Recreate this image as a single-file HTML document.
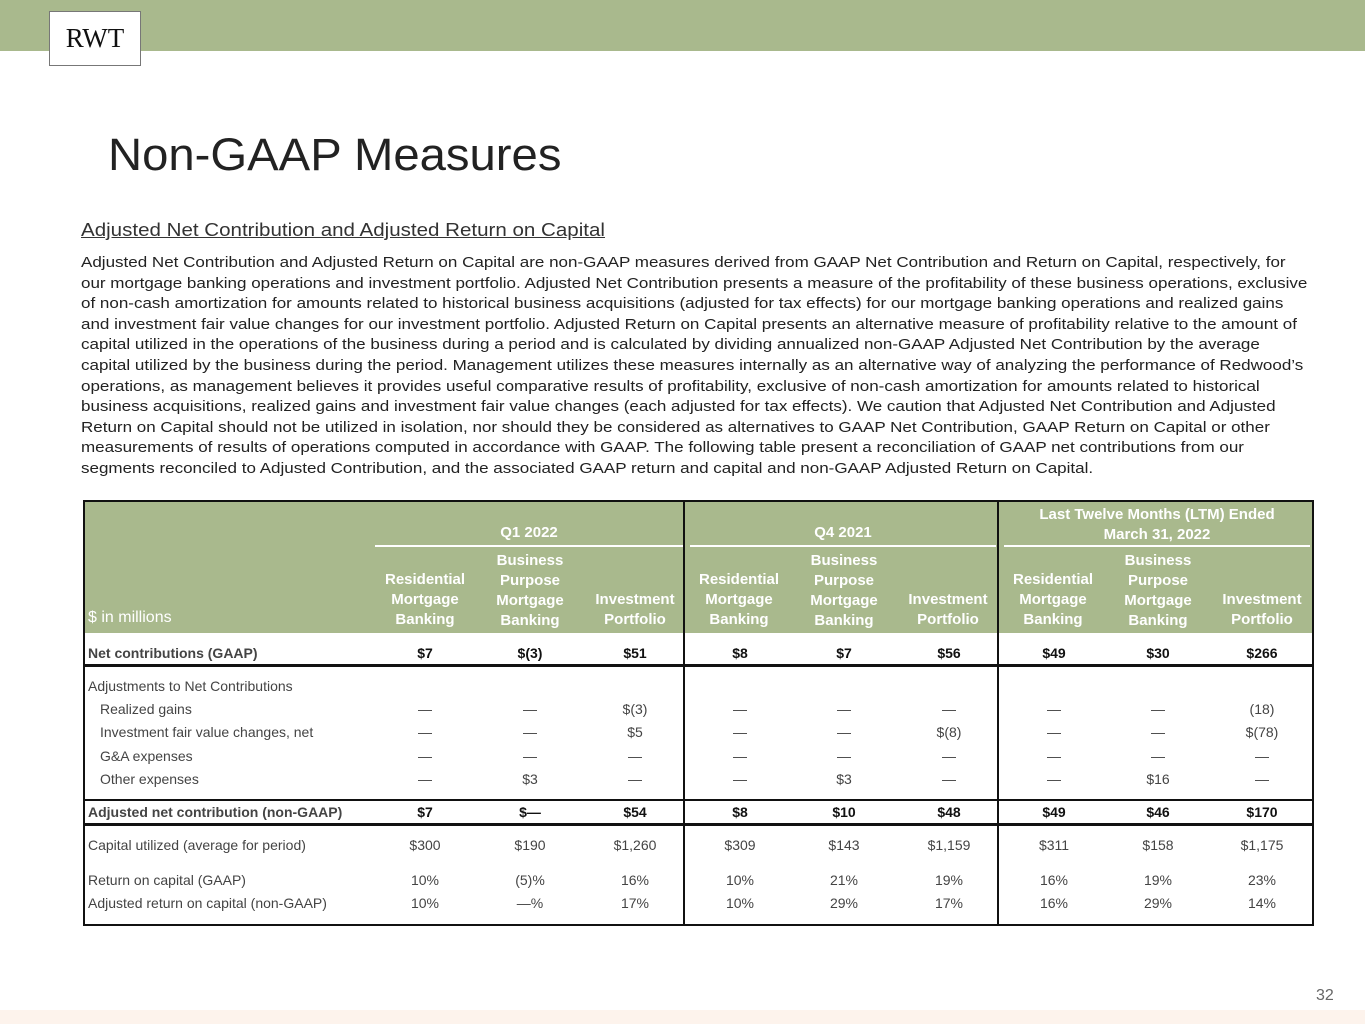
<!DOCTYPE html>
<html><head><meta charset="utf-8"><style>
*{margin:0;padding:0;box-sizing:border-box}
body{width:1365px;height:1024px;position:relative;background:#fff;font-family:"Liberation Sans",Arial,sans-serif;overflow:hidden;color:#222}
.a{position:absolute}
.c{position:absolute;width:110px;text-align:center;font-size:14px;line-height:18px;color:#444;white-space:nowrap}
.b{font-weight:bold;color:#111}
.h{position:absolute;width:110px;text-align:center;font-size:15px;line-height:20px;font-weight:bold;color:#fff}
.l{position:absolute;left:88px;font-size:14px;line-height:18px;color:#444;white-space:nowrap}
.hl{position:absolute;left:83px;width:1230px;height:2px;background:#111}
.vl{position:absolute;top:501px;width:2px;height:424px;background:#111}
</style></head><body>
<div class="a" style="left:0;top:0;width:1365px;height:51px;background:#a9b98d"></div>
<div class="a" style="left:49px;top:11px;width:92px;height:55px;background:#fff;border:1px solid #777;font-family:'Liberation Serif',serif;font-size:27px;line-height:53px;text-align:center;color:#111">RWT</div>
<div class="a" style="left:108px;top:128px;font-size:45px;line-height:54px;color:#222;transform:scaleX(1.05);transform-origin:left">Non-GAAP Measures</div>
<div class="a" style="left:81px;top:218px;font-size:18.5px;line-height:23px;color:#333;text-decoration:underline;transform:scaleX(1.11);transform-origin:left;white-space:nowrap">Adjusted Net Contribution and Adjusted Return on Capital</div>
<div class="a" style="left:81px;top:253px;font-size:15.2px;line-height:20.6px;color:#222;white-space:nowrap;transform:scaleX(1.12);transform-origin:left">Adjusted Net Contribution and Adjusted Return on Capital are non-GAAP measures derived from GAAP Net Contribution and Return on Capital, respectively, for<br>our mortgage banking operations and investment portfolio. Adjusted Net Contribution presents a measure of the profitability of these business operations, exclusive<br>of non-cash amortization for amounts related to historical business acquisitions (adjusted for tax effects) for our mortgage banking operations and realized gains<br>and investment fair value changes for our investment portfolio. Adjusted Return on Capital presents an alternative measure of profitability relative to the amount of<br>capital utilized in the operations of the business during a period and is calculated by dividing annualized non-GAAP Adjusted Net Contribution by the average<br>capital utilized by the business during the period. Management utilizes these measures internally as an alternative way of analyzing the performance of Redwood’s<br>operations, as management believes it provides useful comparative results of profitability, exclusive of non-cash amortization for amounts related to historical<br>business acquisitions, realized gains and investment fair value changes (each adjusted for tax effects). We caution that Adjusted Net Contribution and Adjusted<br>Return on Capital should not be utilized in isolation, nor should they be considered as alternatives to GAAP Net Contribution, GAAP Return on Capital or other<br>measurements of results of operations computed in accordance with GAAP. The following table present a reconciliation of GAAP net contributions from our<br>segments reconciled to Adjusted Contribution, and the associated GAAP return and capital and non-GAAP Adjusted Return on Capital.</div>

<div class="a" style="left:83px;top:500px;width:1231px;height:133px;background:#a9b98d"></div>
<div class="a" style="left:83px;top:500px;width:1231px;height:426px;border:2px solid #111"></div>
<div class="a" style="left:375px;top:545px;width:308px;height:2px;background:#fff"></div>
<div class="a" style="left:690px;top:545px;width:306px;height:2px;background:#fff"></div>
<div class="a" style="left:1004px;top:545px;width:306px;height:2px;background:#fff"></div>
<div class="hl" style="top:664px;height:3px"></div>
<div class="hl" style="top:799px"></div>
<div class="hl" style="top:823px;height:3px"></div>
<div class="vl" style="left:683px"></div>
<div class="vl" style="left:997px"></div>

<div class="a" style="left:375px;top:524px;width:308px;text-align:center;font-size:15px;font-weight:bold;color:#fff">Q1 2022</div>
<div class="a" style="left:690px;top:524px;width:306px;text-align:center;font-size:15px;font-weight:bold;color:#fff">Q4 2021</div>
<div class="a" style="left:1004px;top:505px;width:306px;text-align:center;font-size:15px;line-height:20px;font-weight:bold;color:#fff">Last Twelve Months (LTM) Ended<br>March 31, 2022</div>
<div class="a" style="left:88px;top:609px;font-size:16px;color:#fff">$ in millions</div>

<div class="h" style="left:370px;top:570px">Residential<br>Mortgage<br>Banking</div>
<div class="h" style="left:475px;top:551px">Business<br>Purpose<br>Mortgage<br>Banking</div>
<div class="h" style="left:580px;top:590px">Investment<br>Portfolio</div>
<div class="h" style="left:684px;top:570px">Residential<br>Mortgage<br>Banking</div>
<div class="h" style="left:789px;top:551px">Business<br>Purpose<br>Mortgage<br>Banking</div>
<div class="h" style="left:893px;top:590px">Investment<br>Portfolio</div>
<div class="h" style="left:998px;top:570px">Residential<br>Mortgage<br>Banking</div>
<div class="h" style="left:1103px;top:551px">Business<br>Purpose<br>Mortgage<br>Banking</div>
<div class="h" style="left:1207px;top:590px">Investment<br>Portfolio</div>

<div class="l b" style="top:644px">Net contributions (GAAP)</div>
<div class="l" style="top:677px">Adjustments to Net Contributions</div>
<div class="l" style="top:700px;left:100px">Realized gains</div>
<div class="l" style="top:723px;left:100px">Investment fair value changes, net</div>
<div class="l" style="top:747px;left:100px">G&amp;A expenses</div>
<div class="l" style="top:770px;left:100px">Other expenses</div>
<div class="l b" style="top:803px">Adjusted net contribution (non-GAAP)</div>
<div class="l" style="top:836px">Capital utilized (average for period)</div>
<div class="l" style="top:871px">Return on capital (GAAP)</div>
<div class="l" style="top:894px">Adjusted return on capital (non-GAAP)</div>

<div class="c b" style="left:370px;top:644px">$7</div><div class="c b" style="left:475px;top:644px">$(3)</div><div class="c b" style="left:580px;top:644px">$51</div>
<div class="c b" style="left:685px;top:644px">$8</div><div class="c b" style="left:789px;top:644px">$7</div><div class="c b" style="left:894px;top:644px">$56</div>
<div class="c b" style="left:999px;top:644px">$49</div><div class="c b" style="left:1103px;top:644px">$30</div><div class="c b" style="left:1207px;top:644px">$266</div>

<div class="c" style="left:370px;top:700px">—</div><div class="c" style="left:475px;top:700px">—</div><div class="c" style="left:580px;top:700px">$(3)</div>
<div class="c" style="left:685px;top:700px">—</div><div class="c" style="left:789px;top:700px">—</div><div class="c" style="left:894px;top:700px">—</div>
<div class="c" style="left:999px;top:700px">—</div><div class="c" style="left:1103px;top:700px">—</div><div class="c" style="left:1207px;top:700px">(18)</div>

<div class="c" style="left:370px;top:723px">—</div><div class="c" style="left:475px;top:723px">—</div><div class="c" style="left:580px;top:723px">$5</div>
<div class="c" style="left:685px;top:723px">—</div><div class="c" style="left:789px;top:723px">—</div><div class="c" style="left:894px;top:723px">$(8)</div>
<div class="c" style="left:999px;top:723px">—</div><div class="c" style="left:1103px;top:723px">—</div><div class="c" style="left:1207px;top:723px">$(78)</div>

<div class="c" style="left:370px;top:747px">—</div><div class="c" style="left:475px;top:747px">—</div><div class="c" style="left:580px;top:747px">—</div>
<div class="c" style="left:685px;top:747px">—</div><div class="c" style="left:789px;top:747px">—</div><div class="c" style="left:894px;top:747px">—</div>
<div class="c" style="left:999px;top:747px">—</div><div class="c" style="left:1103px;top:747px">—</div><div class="c" style="left:1207px;top:747px">—</div>

<div class="c" style="left:370px;top:770px">—</div><div class="c" style="left:475px;top:770px">$3</div><div class="c" style="left:580px;top:770px">—</div>
<div class="c" style="left:685px;top:770px">—</div><div class="c" style="left:789px;top:770px">$3</div><div class="c" style="left:894px;top:770px">—</div>
<div class="c" style="left:999px;top:770px">—</div><div class="c" style="left:1103px;top:770px">$16</div><div class="c" style="left:1207px;top:770px">—</div>

<div class="c b" style="left:370px;top:803px">$7</div><div class="c b" style="left:475px;top:803px">$—</div><div class="c b" style="left:580px;top:803px">$54</div>
<div class="c b" style="left:685px;top:803px">$8</div><div class="c b" style="left:789px;top:803px">$10</div><div class="c b" style="left:894px;top:803px">$48</div>
<div class="c b" style="left:999px;top:803px">$49</div><div class="c b" style="left:1103px;top:803px">$46</div><div class="c b" style="left:1207px;top:803px">$170</div>

<div class="c" style="left:370px;top:836px">$300</div><div class="c" style="left:475px;top:836px">$190</div><div class="c" style="left:580px;top:836px">$1,260</div>
<div class="c" style="left:685px;top:836px">$309</div><div class="c" style="left:789px;top:836px">$143</div><div class="c" style="left:894px;top:836px">$1,159</div>
<div class="c" style="left:999px;top:836px">$311</div><div class="c" style="left:1103px;top:836px">$158</div><div class="c" style="left:1207px;top:836px">$1,175</div>

<div class="c" style="left:370px;top:871px">10%</div><div class="c" style="left:475px;top:871px">(5)%</div><div class="c" style="left:580px;top:871px">16%</div>
<div class="c" style="left:685px;top:871px">10%</div><div class="c" style="left:789px;top:871px">21%</div><div class="c" style="left:894px;top:871px">19%</div>
<div class="c" style="left:999px;top:871px">16%</div><div class="c" style="left:1103px;top:871px">19%</div><div class="c" style="left:1207px;top:871px">23%</div>

<div class="c" style="left:370px;top:894px">10%</div><div class="c" style="left:475px;top:894px">—%</div><div class="c" style="left:580px;top:894px">17%</div>
<div class="c" style="left:685px;top:894px">10%</div><div class="c" style="left:789px;top:894px">29%</div><div class="c" style="left:894px;top:894px">17%</div>
<div class="c" style="left:999px;top:894px">16%</div><div class="c" style="left:1103px;top:894px">29%</div><div class="c" style="left:1207px;top:894px">14%</div>

<div class="a" style="left:1316px;top:987px;font-size:16px;color:#666">32</div>
<div class="a" style="left:0;top:1010px;width:1365px;height:14px;background:#fdf3ec"></div>
</body></html>
